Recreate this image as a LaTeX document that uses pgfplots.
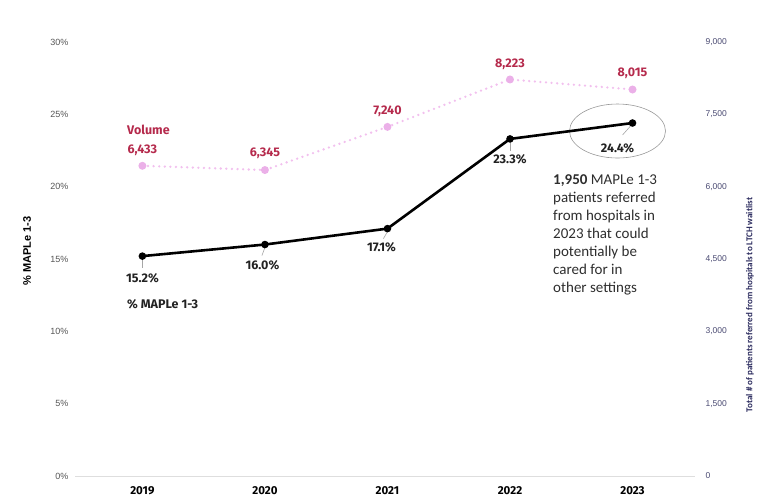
\documentclass[border=0pt]{standalone}
\usepackage{pgfplots}
\pgfplotsset{compat=1.18}
\usepackage{fontspec}
\setmainfont{Fira Sans}
\newfontfamily\carl{Carlito}
\newfontfamily\lib{Liberation Sans}
\definecolor{pinkline}{HTML}{F2C0EE}
\definecolor{pinkmark}{HTML}{EBB0E8}
\definecolor{volred}{HTML}{B52A4C}
\definecolor{navy}{HTML}{2B2B5E}
\definecolor{tickgray}{HTML}{555555}
\definecolor{ticknavy}{HTML}{4A4A72}
\definecolor{anngray}{HTML}{2E2E2E}
\definecolor{lblblack}{HTML}{222222}
\begin{document}
\begin{tikzpicture}
\useasboundingbox (0,0) rectangle (757pt,498pt);
% ---- volume axis (right) ----
\begin{axis}[
  at={(75pt,22pt)}, anchor=south west, scale only axis,
  width=620pt, height=434pt,
  xmin=-0.55, xmax=4.51, ymin=0, ymax=9000,
  axis x line=none, axis y line*=right,
  y axis line style={draw=none},
  major tick length=0pt,
  ytick={0,1500,3000,4500,6000,7500,9000},
  scaled y ticks=false,
  yticklabel style={font=\lib\fontsize{8.5}{10}\selectfont, text=ticknavy, xshift=7pt,
    /pgf/number format/assume math mode=true, /pgf/number format/1000 sep={,}},
  clip=false,
]
\addplot[pinkline, line width=2.6pt, line cap=round, dash pattern=on 0pt off 5.6pt,
  mark=*, mark size=2.6pt, mark options={solid, fill=pinkmark, draw=pinkmark}]
  coordinates {(0,6433)(1,6345)(2,7240)(3,8223)(4,8015)};
\begin{scope}[every node/.style={font=\fontsize{12.5}{14}\selectfont\bfseries, text=volred, inner sep=0pt}]
\node at ([yshift=16pt]axis cs:0,6433) {6,433};
\node at ([yshift=17pt]axis cs:1,6345) {6,345};
\node at ([yshift=16pt]axis cs:2,7240) {7,240};
\node at ([yshift=15.5pt]axis cs:3,8223) {8,223};
\node at ([yshift=16pt]axis cs:4,8015) {8,015};
\end{scope}
\end{axis}
% ---- percent axis (left) ----
\begin{axis}[
  at={(75pt,22pt)}, anchor=south west, scale only axis,
  width=620pt, height=434pt,
  xmin=-0.55, xmax=4.51, ymin=0, ymax=30,
  axis x line*=bottom, axis y line*=left,
  x axis line style={draw=black!13, line width=1pt, -},
  y axis line style={draw=none},
  major tick length=0pt,
  xtick={0,1,2,3,4}, xticklabels={2019,2020,2021,2022,2023},
  xticklabel style={font=\fontsize{11.5}{12}\selectfont\bfseries, text=black, yshift=-7pt},
  ytick={0,5,10,15,20,25,30},
  yticklabel={\pgfmathprintnumber[assume math mode=true]{\tick}\%},
  yticklabel style={font=\lib\fontsize{9}{10}\selectfont, text=tickgray, xshift=-3pt},
  clip=false,
]
% leader lines
\draw[black!35, line width=0.6pt] ([yshift=-3pt]axis cs:0,15.2) -- ([yshift=-12pt]axis cs:0,15.2);
\draw[black!35, line width=0.6pt] ([yshift=-3pt]axis cs:1,16.0) -- ([xshift=-3pt,yshift=-11pt]axis cs:1,16.0);
\draw[black!35, line width=0.6pt] ([yshift=-3pt]axis cs:2,17.1) -- ([xshift=-4pt,yshift=-10pt]axis cs:2,17.1);
\draw[black!35, line width=0.6pt] ([yshift=-3pt]axis cs:3,23.3) -- ([yshift=-12pt]axis cs:3,23.3);
\draw[black!35, line width=0.6pt] ([xshift=-2pt,yshift=-3pt]axis cs:4,24.4) -- ([xshift=-10pt,yshift=-12pt]axis cs:4,24.4);
% ellipse
\draw[black!40, line width=0.6pt] ([xshift=-15pt,yshift=-8pt]axis cs:4,24.4) ellipse [x radius=48pt, y radius=27pt];
\addplot[black, line width=2.6pt, mark=*, mark size=2.4pt, mark options={solid, fill=black}]
  coordinates {(0,15.2)(1,16.0)(2,17.1)(3,23.3)(4,24.4)};
\begin{scope}[every node/.style={font=\fontsize{12.5}{14}\selectfont\bfseries, text=lblblack, inner sep=0pt}]
\node at ([yshift=-22pt]axis cs:0,15.2) {15.2\%};
\node at ([xshift=-2.5pt,yshift=-20.5pt]axis cs:1,16.0) {16.0\%};
\node at ([xshift=-6pt,yshift=-19pt]axis cs:2,17.1) {17.1\%};
\node at ([yshift=-20pt]axis cs:3,23.3) {23.3\%};
\node at ([xshift=-15pt,yshift=-25pt]axis cs:4,24.4) {24.4\%};
\end{scope}
\end{axis}
% ---- free texts ----
\node[anchor=west, inner sep=0pt, font=\fontsize{12.5}{14}\selectfont\bfseries, text=volred] at (127pt,368pt) {Volume};
\node[anchor=west, inner sep=0pt, font=\fontsize{12.5}{14}\selectfont\bfseries, text=lblblack] at (127pt,194pt) {\% MAPLe 1-3};
\node[anchor=north west, inner sep=0pt, align=left, font=\carl\fontsize{15}{18}\selectfont, text=anngray] at (553pt,324pt)
  {\textbf{1,950} MAPLe 1-3\\patients referred\\from hospitals in\\2023 that could\\potentially be\\cared for in\\other settings};
\node[rotate=90, inner sep=0pt, font=\lib\fontsize{11}{12}\selectfont\bfseries, text=black] at (27pt,247pt) {\% MAPLe 1-3};
\node[rotate=90, inner sep=0pt, font=\carl\fontsize{9}{10}\selectfont\bfseries, text=navy] at (750pt,193pt) {Total \# of patients referred from hospitals to LTCH waitlist};
\end{tikzpicture}
\end{document}
